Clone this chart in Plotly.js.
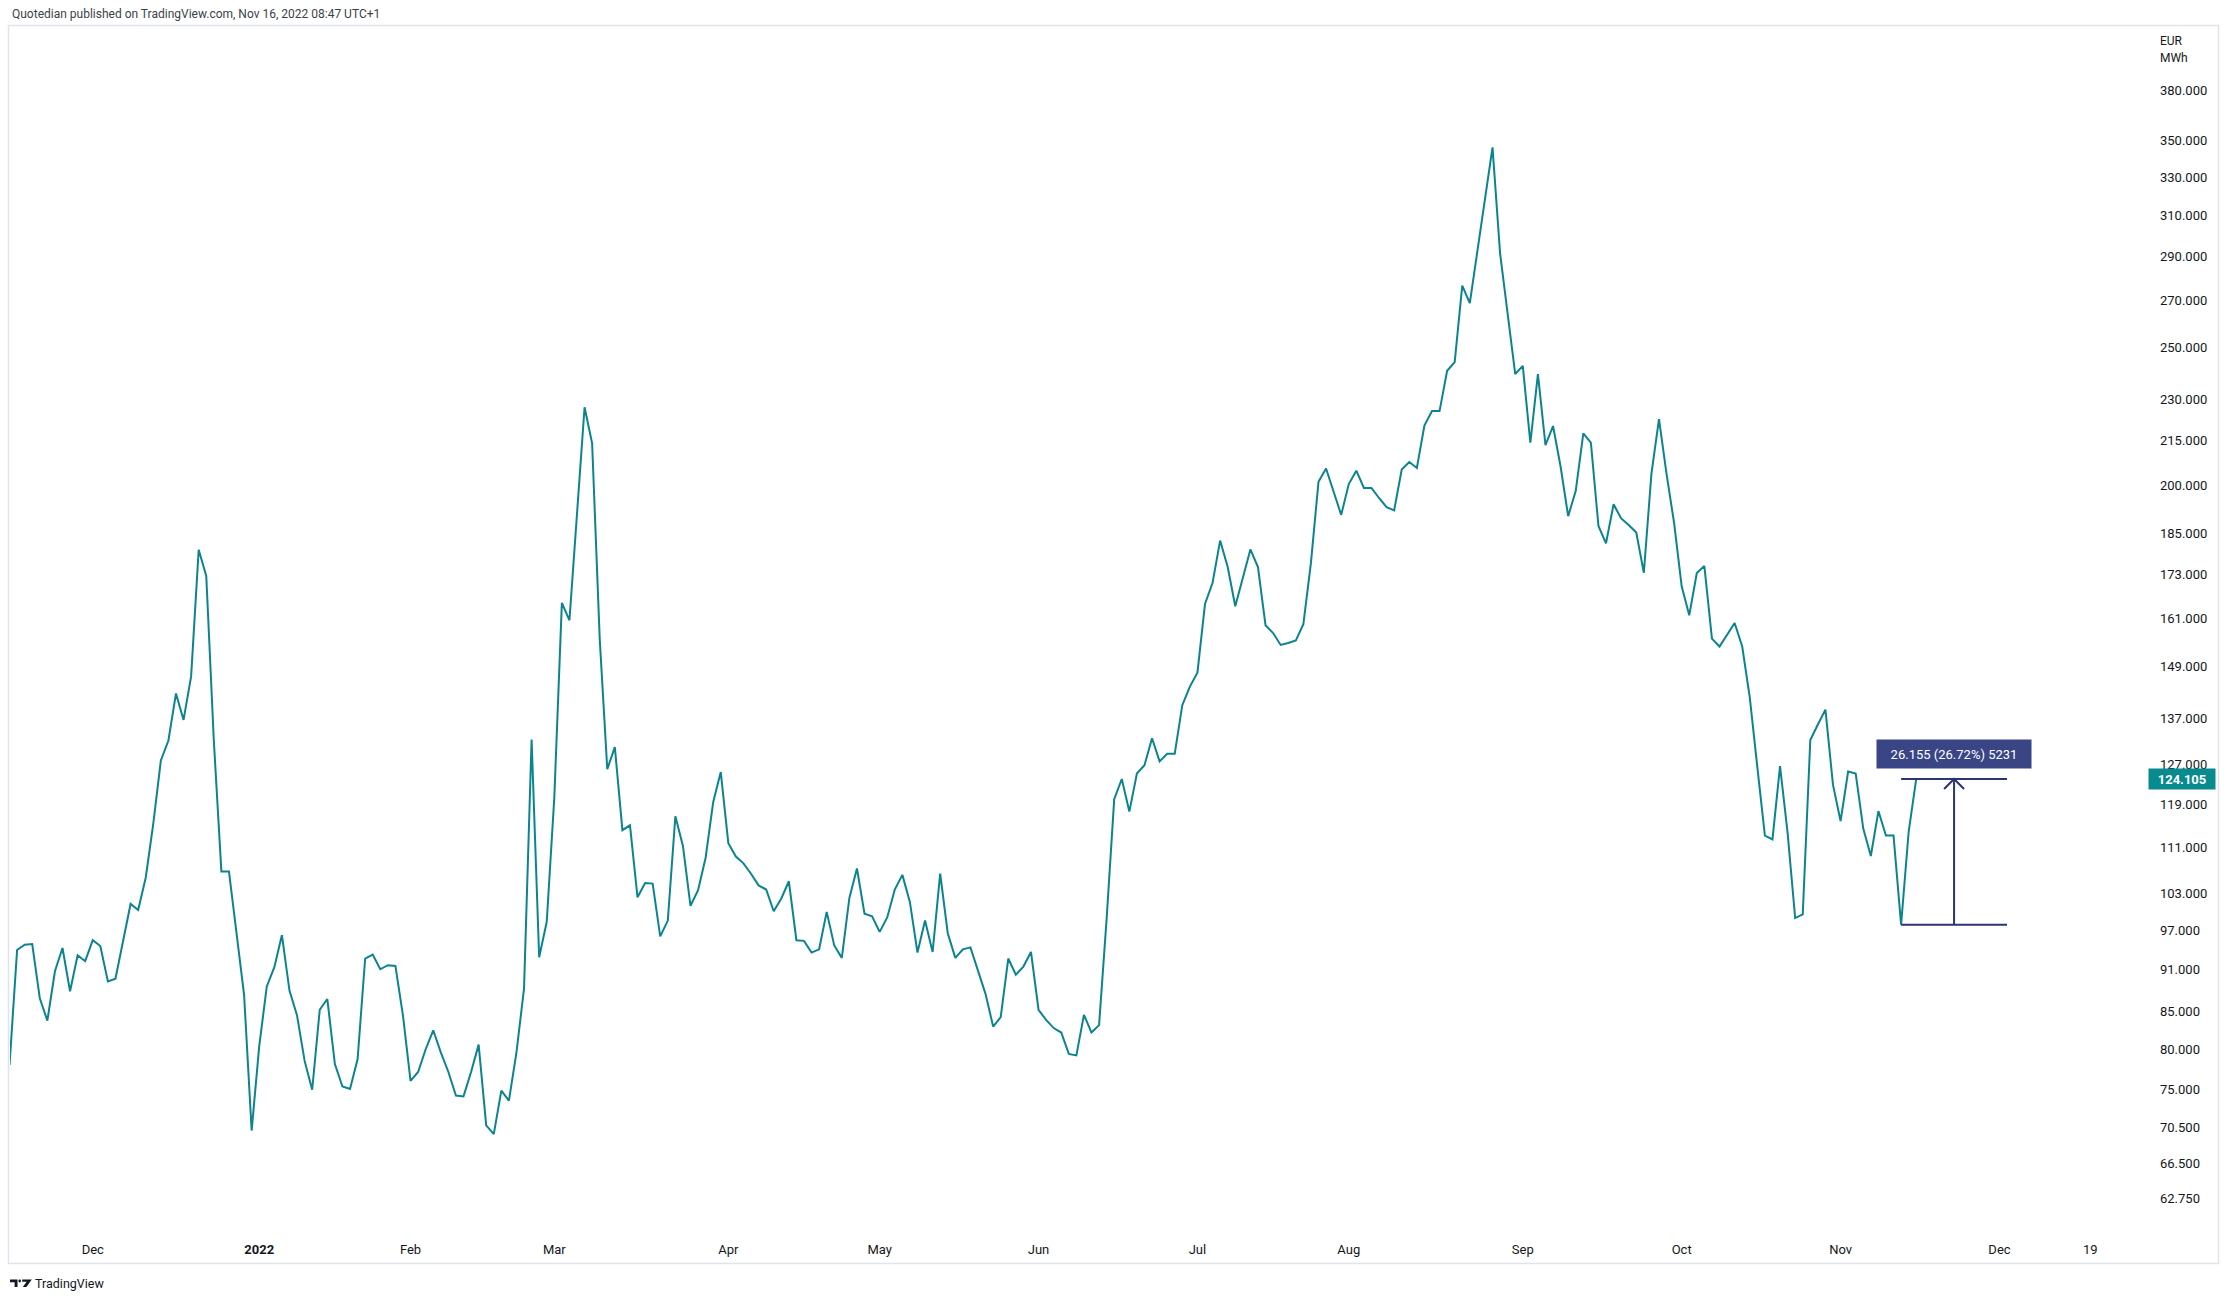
<!DOCTYPE html>
<html>
<head>
<meta charset="utf-8">
<script src="https://cdn.plot.ly/plotly-3.0.1.min.js"></script>
<style>
html,body{margin:0;padding:0;background:#ffffff;}
#chart{width:2230px;height:1300px;}
</style>
</head>
<body>
<div id="chart"></div>
<script>
// ---------------- DATA ----------------
const firstTradingDate = '2021-11-15';
// exchange holidays (no bar drawn on these weekdays)
const holidays = ['2021-11-25','2021-12-24','2022-01-17','2022-02-21','2022-04-15','2022-05-30','2022-06-20','2022-07-04','2022-09-05','2022-11-24','2022-12-26'];

const prices = [
78.0,
94.0, 94.8, 94.9, 86.9, 83.8, 90.8, 94.3, 87.9, 93.2, 92.3,
95.5, 94.6, 89.3, 89.7, 95.5, 101.3, 100.3, 105.7, 115.4, 127.9,
132.1, 142.6, 136.6, 146.6, 180.1, 172.6, 132.1, 106.8, 106.8, 96.8,
87.4, 70.1, 80.4, 88.6, 91.4, 96.3, 88.0, 84.5, 78.5, 74.9,
85.3, 86.8, 78.1, 75.3, 75.0, 78.7, 92.7, 93.3, 91.1, 91.7,
91.6, 84.5, 76.0, 77.1, 80.0, 82.5, 79.6, 77.1, 74.2, 74.1,
77.1, 80.6, 70.7, 69.7, 74.8, 73.6, 79.6, 88.3, 132.3, 92.9,
98.4, 120.4, 165.2, 160.6, 192.3, 227.0, 214.1, 155.9, 126.1, 130.7,
114.2, 115.1, 102.4, 104.8, 104.7, 96.1, 98.6, 116.8, 111.3, 101.0,
103.6, 109.2, 119.5, 125.5, 111.8, 109.4, 108.2, 106.4, 104.4, 103.7,
100.1, 102.2, 105.1, 95.5, 95.4, 93.6, 94.1, 100.0, 94.7, 92.8,
102.3, 107.3, 99.7, 99.3, 96.8, 99.1, 103.7, 106.2, 101.6, 93.6,
98.6, 93.7, 106.4, 96.6, 92.8, 94.1, 94.4, 90.9, 87.5, 83.0,
84.3, 92.7, 90.3, 91.5, 93.7, 85.3, 83.9, 82.8, 82.2, 79.4,
79.2, 84.6, 82.2, 83.2, 98.9, 120.1, 124.1, 117.7, 125.2, 126.9,
132.6, 127.7, 129.3, 129.3, 139.9, 144.2, 147.5, 164.9, 170.7, 182.8,
175.1, 164.3, 172.1, 180.2, 175.1, 159.3, 157.3, 154.3, 154.8, 155.4,
159.6, 176.3, 201.1, 205.5, 197.9, 190.6, 200.4, 204.8, 199.1, 199.1,
195.9, 193.0, 192.0, 205.2, 207.7, 205.7, 220.4, 225.6, 225.6, 240.9,
244.3, 276.6, 268.9, 293.0, 317.9, 346.3, 291.5, 264.5, 239.6, 242.8,
214.3, 239.6, 213.5, 220.2, 206.1, 190.2, 198.2, 217.6, 214.3, 187.2,
182.0, 193.9, 189.5, 187.5, 185.2, 173.5, 203.7, 222.7, 203.7, 188.1,
169.7, 161.9, 173.4, 175.4, 155.9, 153.9, 156.7, 159.9, 153.9, 141.7,
126.5, 113.2, 112.5, 126.7, 113.7, 99.0, 99.6, 132.2, 135.6, 138.9,
122.9, 115.9, 125.6, 125.2, 114.5, 109.5, 117.8, 113.2, 113.2, 97.95,
113.9, 124.105
];

const timeTickDates = ['2021-12-01','2022-01-03','2022-02-01','2022-03-01','2022-04-01','2022-05-02','2022-06-01','2022-07-01','2022-08-01','2022-09-01','2022-10-03','2022-11-01','2022-12-01','2022-12-19'];
const timeTickLabels = ['Dec','<b>2022</b>','Feb','Mar','Apr','May','Jun','Jul','Aug','Sep','Oct','Nov','Dec','19'];

const priceTicks = [380,350,330,310,290,270,250,230,215,200,185,173,161,149,137,127,119,111,103,97,91,85,80,75,70.5,66.5,62.75];

const lastPrice = 124.105;
const measureLow = 97.95;
const measureStartDate = '2022-11-11';
const measureMidDate = '2022-11-22';
const measureEndDate = '2022-12-02';
const measureText = '26.155 (26.72%) 5231';

const headerText = 'Quotedian published on TradingView.com, Nov 16, 2022 08:47 UTC+1';
const unitTop = 'EUR';
const unitBottom = 'MWh';

// ---------------- BUILD ----------------
function tradingDates(start, n, hol){
  const out = [];
  const d = new Date(start + 'T00:00:00Z');
  while(out.length < n){
    const wd = d.getUTCDay();
    const s = d.toISOString().slice(0,10);
    if(wd !== 0 && wd !== 6 && hol.indexOf(s) < 0) out.push(s);
    d.setUTCDate(d.getUTCDate() + 1);
  }
  return out;
}
const dates = tradingDates(firstTradingDate, prices.length, holidays);

const W = 2230, H = 1300;
const PL = 10, PR = 2147, PT = 26, PB = 1232;
const pw = PR - PL, ph = PB - PT;
const px = x => (x - PL) / pw;
const py = y => (PB - y) / ph;

const FONT = 'Roboto, "Liberation Sans", Arial, sans-serif';
const TEXT = '#131722';
const LINE = '#0b8490';
const NAVY = '#2b3572';
const NAVYBOX = '#3a4585';

const yLo = 1.77413, yHi = 2.62507;

const traces = [
  {x: dates, y: prices, type: 'scatter', mode: 'lines',
   line: {color: LINE, width: 2}, hoverinfo: 'skip'},
  {x: [measureStartDate, measureEndDate], y: [lastPrice, lastPrice], type: 'scatter', mode: 'lines',
   line: {color: NAVY, width: 2}, hoverinfo: 'skip', cliponaxis: false},
  {x: [measureStartDate, measureEndDate], y: [measureLow, measureLow], type: 'scatter', mode: 'lines',
   line: {color: NAVY, width: 2}, hoverinfo: 'skip', cliponaxis: false},
  {x: [measureMidDate, measureMidDate], y: [measureLow, lastPrice], type: 'scatter', mode: 'lines',
   line: {color: NAVY, width: 2}, hoverinfo: 'skip', cliponaxis: false}
];

function pxPath(pts){
  return 'M' + pts.map(p => px(p[0]).toFixed(5) + ',' + py(p[1]).toFixed(5)).join(' L') + ' Z';
}

const shapes = [
  // chart frame
  {type: 'rect', xref: 'paper', yref: 'paper', x0: px(8.5), x1: px(2218.5), y0: py(1263.5), y1: py(25.5),
   line: {color: '#e0e3eb', width: 1.5}, fillcolor: 'rgba(0,0,0,0)', layer: 'below'},
  // measure arrow head
  {type: 'path', xref: 'x', yref: 'y', xsizemode: 'pixel', ysizemode: 'pixel',
   xanchor: measureMidDate, yanchor: lastPrice,
   path: 'M-10,-10 L0,0 L10,-10', line: {color: NAVY, width: 2}},
  // TradingView logo
  {type: 'path', xref: 'paper', yref: 'paper', path: pxPath([[10,1279.5],[17.5,1279.5],[17.5,1287],[14.6,1287],[14.6,1282.2],[10,1282.2]]),
   fillcolor: TEXT, line: {width: 0}},
  {type: 'circle', xref: 'paper', yref: 'paper', x0: px(18.4), x1: px(21), y0: py(1282.4), y1: py(1279.6),
   fillcolor: TEXT, line: {width: 0}},
  {type: 'path', xref: 'paper', yref: 'paper', path: pxPath([[22.2,1279.5],[31.8,1279.5],[26.4,1287],[22.8,1287],[26.6,1281.8],[22.2,1281.8]]),
   fillcolor: TEXT, line: {width: 0}}
];

const annotations = [
  {xref: 'paper', yref: 'paper', x: px(10), y: py(14.5), xanchor: 'left', yanchor: 'middle',
   text: headerText, showarrow: false, font: {family: FONT, size: 12, color: '#3b3f4a'}},
  {xref: 'paper', yref: 'paper', x: px(33), y: py(1283), xanchor: 'left', yanchor: 'middle',
   text: 'TradingView', showarrow: false, font: {family: FONT, size: 12.5, color: TEXT}},
  {xref: 'paper', yref: 'paper', x: px(2158), y: py(41), xanchor: 'left', yanchor: 'middle',
   text: unitTop, showarrow: false, font: {family: FONT, size: 12, color: TEXT}},
  {xref: 'paper', yref: 'paper', x: px(2158), y: py(58), xanchor: 'left', yanchor: 'middle',
   text: unitBottom, showarrow: false, font: {family: FONT, size: 12, color: TEXT}},
  // last price box
  {xref: 'paper', yref: 'y', x: px(2148.3), y: Math.log10(lastPrice), xanchor: 'left', yanchor: 'middle',
   text: '<b>' + lastPrice.toFixed(3) + '</b>', showarrow: false, bgcolor: '#088a8f',
   width: 62, height: 16, borderpad: 2, align: 'center',
   font: {family: FONT, size: 13, color: '#ffffff'}},
  // measure label
  {xref: 'x', yref: 'y', x: measureMidDate, y: Math.log10(lastPrice), xanchor: 'center', yanchor: 'bottom',
   yshift: 10, text: measureText, showarrow: false, bgcolor: NAVYBOX,
   width: 146, height: 20, borderpad: 4, align: 'center',
   font: {family: FONT, size: 13, color: '#ffffff'}}
];

const layout = {
  width: W, height: H,
  margin: {l: PL, r: W - PR, t: PT, b: H - PB, pad: 0},
  paper_bgcolor: '#ffffff', plot_bgcolor: '#ffffff',
  showlegend: false,
  xaxis: {
    type: 'date',
    range: ['2021-11-15 01:29', '2022-12-29 12:00'],
    rangebreaks: [{bounds: ['sat', 'mon']}, {values: holidays, dvalue: 86400000}],
    tickmode: 'array', tickvals: timeTickDates, ticktext: timeTickLabels,
    showgrid: false, zeroline: false, showline: false, ticks: '',
    ticklabelstandoff: 8,
    tickfont: {family: FONT, size: 13, color: TEXT},
    fixedrange: true
  },
  yaxis: {
    type: 'log', side: 'right',
    range: [yLo, yHi],
    tickmode: 'array', tickvals: priceTicks, ticktext: priceTicks.map(v => v.toFixed(3)),
    showgrid: false, zeroline: false, showline: false, ticks: '',
    ticklabelstandoff: 12,
    tickfont: {family: FONT, size: 13, color: TEXT},
    fixedrange: true
  },
  shapes: shapes,
  annotations: annotations
};

Plotly.newPlot('chart', traces, layout, {displayModeBar: false, staticPlot: true});
</script>
</body>
</html>
